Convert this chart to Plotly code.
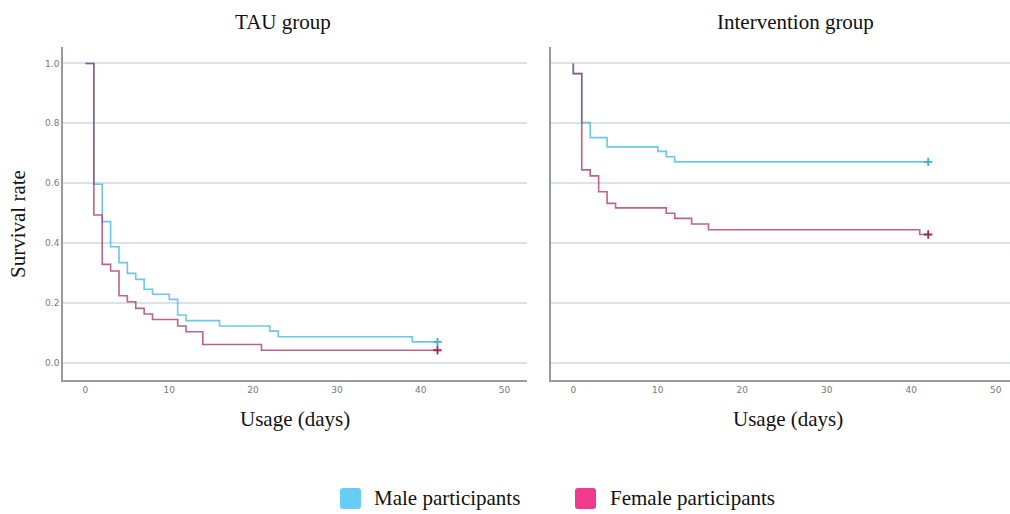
import plotly.graph_objects as go

# ---------------- data ----------------
tau_male_t = [0, 1, 2, 3, 4, 5, 6, 7, 8, 10, 11, 12, 16, 22, 23, 39]
tau_male_s = [1.0, 0.596, 0.471, 0.387, 0.334, 0.298, 0.278, 0.245, 0.228, 0.211, 0.159, 0.140, 0.122, 0.105, 0.086, 0.069]
tau_male_cens = [42]

tau_female_t = [0, 1, 2, 3, 4, 5, 6, 7, 8, 11, 12, 14, 21]
tau_female_s = [1.0, 0.493, 0.328, 0.306, 0.223, 0.203, 0.181, 0.162, 0.144, 0.122, 0.103, 0.060, 0.041]
tau_female_cens = [42]

int_male_t = [0, 0, 1, 2, 4, 10, 11, 12]
int_male_s = [1.0, 0.966, 0.802, 0.752, 0.721, 0.706, 0.688, 0.671]
int_male_cens = [42]

int_female_t = [0, 0, 1, 2, 3, 4, 5, 11, 12, 14, 16, 41]
int_female_s = [1.0, 0.966, 0.644, 0.624, 0.571, 0.532, 0.517, 0.499, 0.482, 0.463, 0.444, 0.428]
int_female_cens = [42]

x_ticks = [0, 10, 20, 30, 40, 50]
y_ticks = [0.0, 0.2, 0.4, 0.6, 0.8, 1.0]
panel_titles = ["TAU group", "Intervention group"]
legend_labels = ["Male participants", "Female participants"]

# ---------------- style ----------------
W, H = 1010, 514
MALE_LINE = "rgba(80,190,228,0.85)"
FEMALE_LINE = "rgba(170,55,100,0.78)"
MALE_MARK = "#3aaedc"
FEMALE_MARK = "#9b2a55"
MALE_SWATCH = "#66cdf5"
FEMALE_SWATCH = "#ef3a8e"
GRID = "#dae2e7"
AXIS = "#9a9a9a"
SERIF = "Liberation Serif"


def px(x):
    return x / W


def py(y):
    return 1 - y / H


fig = go.Figure()


def add_curve(t, s, cens, color, mcolor, xa, ya):
    xs = list(t) + list(cens)
    ys = list(s) + [s[-1]] * len(cens)
    fig.add_trace(go.Scatter(x=xs, y=ys, mode="lines", line=dict(color=color, width=1.6, shape="hv"),
                             xaxis=xa, yaxis=ya, showlegend=False, hoverinfo="skip"))
    fig.add_trace(go.Scatter(x=list(cens), y=[s[-1]] * len(cens), mode="markers",
                             marker=dict(symbol="cross-thin", size=6, line=dict(color=mcolor, width=1.8)),
                             xaxis=xa, yaxis=ya, showlegend=False, hoverinfo="skip"))


add_curve(tau_male_t, tau_male_s, tau_male_cens, MALE_LINE, MALE_MARK, "x", "y")
add_curve(tau_female_t, tau_female_s, tau_female_cens, FEMALE_LINE, FEMALE_MARK, "x", "y")
add_curve(int_male_t, int_male_s, int_male_cens, MALE_LINE, MALE_MARK, "x2", "y2")
add_curve(int_female_t, int_female_s, int_female_cens, FEMALE_LINE, FEMALE_MARK, "x2", "y2")

y_dom = [py(380), py(47)]
y_range = [-0.0585, 1.055]
tickfont = dict(family="DejaVu Sans", size=9, color="#777777")

common_x = dict(showgrid=False, zeroline=False, showline=True, linecolor=AXIS, linewidth=1.5,
                tickmode="array", tickvals=x_ticks, ticks="", tickfont=tickfont, fixedrange=True)
common_y = dict(showgrid=True, gridcolor=GRID, gridwidth=1.5, zeroline=False, showline=True,
                linecolor=AXIS, linewidth=1.5, tickmode="array", tickvals=y_ticks, ticks="",
                tickfont=tickfont, range=y_range, domain=y_dom, fixedrange=True)

fig.update_layout(
    width=W, height=H, margin=dict(l=0, r=0, t=0, b=0),
    paper_bgcolor="white", plot_bgcolor="white", showlegend=False,
    xaxis=dict(common_x, domain=[px(63), px(527)], range=[-2.68, 52.68], anchor="y"),
    yaxis=dict(common_y, anchor="x", tickformat=".1f"),
    xaxis2=dict(common_x, domain=[px(551), 1.0], range=[-2.64, 51.68], anchor="y2"),
    yaxis2=dict(common_y, anchor="x2", showticklabels=False),
)

ann = []
title_font = dict(family=SERIF, size=21, color="#111111")
ann.append(dict(text=panel_titles[0], x=px(283), y=py(22), xref="paper", yref="paper",
                showarrow=False, font=title_font, xanchor="center", yanchor="middle"))
ann.append(dict(text=panel_titles[1], x=px(795), y=py(22), xref="paper", yref="paper",
                showarrow=False, font=title_font, xanchor="center", yanchor="middle"))
ann.append(dict(text="Survival rate", x=px(18), y=py(224), xref="paper", yref="paper", textangle=-90,
                showarrow=False, font=title_font, xanchor="center", yanchor="middle"))
ann.append(dict(text="Usage (days)", x=px(295), y=py(419), xref="paper", yref="paper",
                showarrow=False, font=title_font, xanchor="center", yanchor="middle"))
ann.append(dict(text="Usage (days)", x=px(788), y=py(419), xref="paper", yref="paper",
                showarrow=False, font=title_font, xanchor="center", yanchor="middle"))

# legend (drawn)
shapes = []
for (x0, col, lab, tx) in [(340, MALE_SWATCH, legend_labels[0], 372), (575, FEMALE_SWATCH, legend_labels[1], 608)]:
    x1 = x0 + 21
    y0, y1 = 488, 509
    r = 3
    path = (f"M {px(x0 + r)} {py(y0)} L {px(x1 - r)} {py(y0)} Q {px(x1)} {py(y0)} {px(x1)} {py(y0 + r)} "
            f"L {px(x1)} {py(y1 - r)} Q {px(x1)} {py(y1)} {px(x1 - r)} {py(y1)} "
            f"L {px(x0 + r)} {py(y1)} Q {px(x0)} {py(y1)} {px(x0)} {py(y1 - r)} "
            f"L {px(x0)} {py(y0 + r)} Q {px(x0)} {py(y0)} {px(x0 + r)} {py(y0)} Z")
    shapes.append(dict(type="path", path=path, xref="paper", yref="paper", fillcolor=col, line=dict(width=0)))
    ann.append(dict(text=lab, x=px(tx), y=py(498), xref="paper", yref="paper", showarrow=False,
                    font=title_font, xanchor="left", yanchor="middle"))

fig.update_layout(annotations=ann, shapes=shapes)
fig.write_html("out.html", config={"displayModeBar": False},
               post_script="document.body.style.margin='0';document.body.style.overflow='hidden';")
